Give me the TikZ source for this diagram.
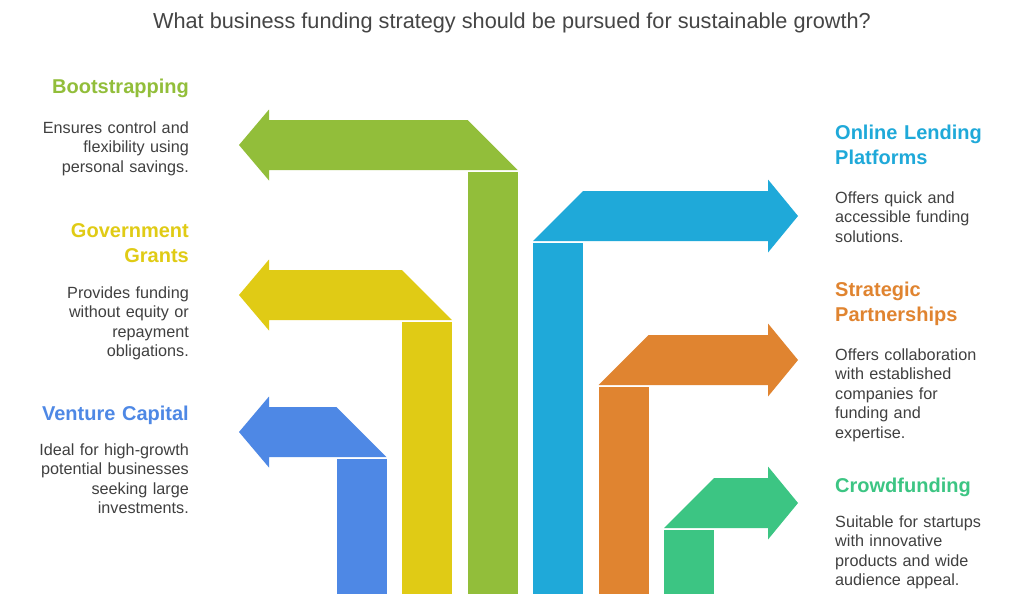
\documentclass[tikz,border=0pt]{standalone}
\usepackage{fontspec}
\setmainfont{Liberation Sans}
\definecolor{cgreen}{HTML}{92BE3A}
\definecolor{cyellow}{HTML}{E0CB15}
\definecolor{cblue}{HTML}{4E88E5}
\definecolor{ccyan}{HTML}{1FA9D9}
\definecolor{corange}{HTML}{E08430}
\definecolor{cteal}{HTML}{3CC583}
\definecolor{ctext}{HTML}{404040}
\definecolor{ctitle}{HTML}{454545}
\begin{document}
\begin{tikzpicture}[x=1pt,y=-1pt,
  headL/.style={anchor=base east,inner sep=0pt,text width=200pt,align=right,font=\fontsize{20}{25.5}\selectfont\bfseries},
  headR/.style={anchor=base west,inner sep=0pt,text width=200pt,align=left,font=\fontsize{20}{25.5}\selectfont\bfseries},
  bodyL/.style={anchor=base east,inner sep=0pt,text width=200pt,align=right,text=ctext,font=\fontsize{16.2}{19.5}\selectfont},
  bodyR/.style={anchor=base west,inner sep=0pt,text width=200pt,align=left,text=ctext,font=\fontsize{16.2}{19.5}\selectfont}]
\useasboundingbox (0,0) rectangle (1024,614);
\fill[white] (0,0) rectangle (1024,614);

\node[anchor=base,inner sep=0pt,text=ctitle,font=\fontsize{21.7}{26}\selectfont] (title) at (512,28) {What business funding strategy should be pursued for sustainable growth?};

% left arrows
\foreach \L/\T/\c in {467.5/120/cgreen, 402/270/cyellow, 336.5/407/cblue}{
  \fill[\c] (239,\T+25) -- (269,\T-10.5) -- (269,\T) -- (\L,\T) -- (\L+50,\T+50) -- (269,\T+50) -- (269,\T+60.5) -- cycle;
  \fill[\c] (\L,\T+52) rectangle (\L+50,594);
}
% right arrows
\foreach \L/\B/\c in {533/241/ccyan, 598.5/385/corange, 664/528/cteal}{
  \fill[\c] (\L,\B) -- (\L+50,\B-50) -- (768,\B-50) -- (768,\B-61.5) -- (798,\B-25) -- (768,\B+11.5) -- (768,\B) -- cycle;
  \fill[\c] (\L,\B+2) rectangle (\L+50,594);
}

% left texts
\node[headL,text=cgreen] (h1) at (189,93) {Bootstrapping};
\node[bodyL] (b1) at (189,133) {Ensures control and\\flexibility using\\personal savings.};
\node[headL,text=cyellow] (h2) at (189,237) {Government\\Grants};
\node[bodyL] (b2) at (189,298) {Provides funding\\without equity or\\repayment\\obligations.};
\node[headL,text=cblue] (h3) at (189,420) {Venture Capital};
\node[bodyL] (b3) at (189,455) {Ideal for high-growth\\potential businesses\\seeking large\\investments.};

% right texts
\node[headR,text=ccyan] (h4) at (835,139) {Online Lending\\Platforms};
\node[bodyR] (b4) at (835,203) {Offers quick and\\accessible funding\\solutions.};
\node[headR,text=corange] (h5) at (835,296) {Strategic\\Partnerships};
\node[bodyR] (b5) at (835,360) {Offers collaboration\\with established\\companies for\\funding and\\expertise.};
\node[headR,text=cteal] (h6) at (835,492) {Crowdfunding};
\node[bodyR] (b6) at (835,527) {Suitable for startups\\with innovative\\products and wide\\audience appeal.};
\end{tikzpicture}
\end{document}
